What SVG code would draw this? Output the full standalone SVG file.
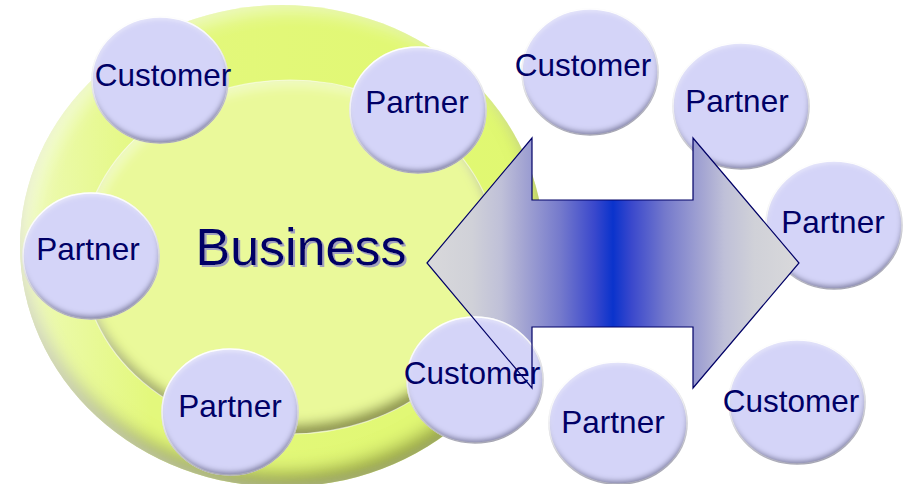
<svg xmlns="http://www.w3.org/2000/svg" width="905" height="484" viewBox="0 0 905 484">
  <defs>
    <style>
      .bub { fill: #D4D4F8; stroke: #FFFFFF; stroke-width: 1.5; filter: url(#bevelBlue); }
      .lbl { font-family: "Liberation Sans", Arial, sans-serif; font-size: 31.5px; fill: #000066; text-anchor: middle; }
      .big { font-family: "Liberation Sans", Arial, sans-serif; font-size: 52px; text-anchor: middle; fill: #000066; filter: url(#textShadow); }
    </style>
    <linearGradient id="ringGrad" x1="0" y1="0" x2="1" y2="0">
      <stop offset="0" stop-color="#EEFAB8"/>
      <stop offset="0.25" stop-color="#E3F87C"/>
      <stop offset="1" stop-color="#E0F870"/>
    </linearGradient>
    <linearGradient id="arrowGrad" gradientUnits="userSpaceOnUse" x1="427" y1="0" x2="799" y2="0">
      <stop offset="0" stop-color="#D9D9DB"/>
      <stop offset="0.12" stop-color="#D0D1D8"/>
      <stop offset="0.2" stop-color="#BFC0D8"/>
      <stop offset="0.25" stop-color="#A8A9D3"/>
      <stop offset="0.36" stop-color="#7479CC"/>
      <stop offset="0.45" stop-color="#3A48CC"/>
      <stop offset="0.5" stop-color="#0A33CC"/>
      <stop offset="0.55" stop-color="#3A48CC"/>
      <stop offset="0.64" stop-color="#7479CC"/>
      <stop offset="0.75" stop-color="#A8A9D3"/>
      <stop offset="0.8" stop-color="#BFC0D8"/>
      <stop offset="0.88" stop-color="#D0D1D8"/>
      <stop offset="1" stop-color="#D9D9DB"/>
    </linearGradient>
    <filter id="textShadow" x="-5%" y="-10%" width="110%" height="130%">
      <feOffset in="SourceAlpha" dx="2" dy="2" result="o"/>
      <feFlood flood-color="#A0A0C0"/>
      <feComposite in2="o" operator="in" result="sh"/>
      <feMerge>
        <feMergeNode in="sh"/>
        <feMergeNode in="SourceGraphic"/>
      </feMerge>
    </filter>
    <filter id="bevelBlue" x="-10%" y="-10%" width="120%" height="120%">
      <feGaussianBlur in="SourceAlpha" stdDeviation="2.5" result="b"/>
      <feOffset in="b" dx="-1" dy="-4" result="o"/>
      <feComposite in="SourceAlpha" in2="o" operator="out" result="rim"/>
      <feFlood flood-color="#50507A" flood-opacity="0.75"/>
      <feComposite in2="rim" operator="in" result="shadow"/>
      <feOffset in="b" dx="1" dy="3" result="o2"/>
      <feComposite in="SourceAlpha" in2="o2" operator="out" result="rim2"/>
      <feFlood flood-color="#FFFFFF" flood-opacity="0.45"/>
      <feComposite in2="rim2" operator="in" result="hl"/>
      <feMerge>
        <feMergeNode in="SourceGraphic"/>
        <feMergeNode in="shadow"/>
        <feMergeNode in="hl"/>
      </feMerge>
    </filter>
    <filter id="bevelRing" x="-5%" y="-5%" width="110%" height="110%">
      <feGaussianBlur in="SourceAlpha" stdDeviation="9" result="b"/>
      <feOffset in="b" dx="-3" dy="-14" result="o"/>
      <feComposite in="SourceAlpha" in2="o" operator="out" result="rim"/>
      <feFlood flood-color="#6E7428" flood-opacity="0.8"/>
      <feComposite in2="rim" operator="in" result="shadow"/>
      <feOffset in="b" dx="10" dy="4" result="o2"/>
      <feComposite in="SourceAlpha" in2="o2" operator="out" result="rim2"/>
      <feFlood flood-color="#FFFFFF" flood-opacity="0.45"/>
      <feComposite in2="rim2" operator="in" result="hl"/>
      <feMerge>
        <feMergeNode in="SourceGraphic"/>
        <feMergeNode in="shadow"/>
        <feMergeNode in="hl"/>
      </feMerge>
    </filter>
    <filter id="bevelDisk" x="-5%" y="-5%" width="110%" height="110%">
      <feGaussianBlur in="SourceAlpha" stdDeviation="6" result="b"/>
      <feOffset in="b" dx="-3" dy="-9" result="o"/>
      <feComposite in="SourceAlpha" in2="o" operator="out" result="rim"/>
      <feFlood flood-color="#70742A" flood-opacity="0.85"/>
      <feComposite in2="rim" operator="in" result="shadow"/>
      <feOffset in="b" dx="4" dy="6" result="o2"/>
      <feComposite in="SourceAlpha" in2="o2" operator="out" result="rim2"/>
      <feFlood flood-color="#FFFFFF" flood-opacity="0.35"/>
      <feComposite in2="rim2" operator="in" result="hl"/>
      <feMerge>
        <feMergeNode in="SourceGraphic"/>
        <feMergeNode in="shadow"/>
        <feMergeNode in="hl"/>
      </feMerge>
    </filter>
    <path id="arrowShape" d="M427,263 L532,138 L532,200 L693,200 L693,138 L799,263 L693,388 L693,327 L532,327 L532,388 Z"/>
  </defs>

  <rect width="905" height="484" fill="#FFFFFF"/>

  <g id="business">
    <ellipse cx="282" cy="246" rx="262" ry="241" fill="url(#ringGrad)" filter="url(#bevelRing)"/>
    <ellipse cx="290" cy="257" rx="208" ry="177" fill="#EAF99A" filter="url(#bevelDisk)"/>
    <ellipse cx="290" cy="257" rx="208" ry="177" fill="none" stroke="#FFFFFF" stroke-width="1.2" stroke-opacity="0.55"/>
    <text class="big" x="301" y="265">Business</text>
  </g>

  <g id="customer-1"><ellipse class="bub" cx="160" cy="80" rx="68" ry="63"/><text class="lbl" x="163" y="86">Customer</text></g>
  <g id="partner-2"><ellipse class="bub" cx="418" cy="110" rx="68" ry="63"/><text class="lbl" x="417" y="113">Partner</text></g>
  <g id="partner-3"><ellipse class="bub" cx="91" cy="256" rx="68" ry="63"/><text class="lbl" x="88" y="260">Partner</text></g>
  <g id="partner-4"><ellipse class="bub" cx="230" cy="412" rx="68" ry="63"/><text class="lbl" x="230" y="417">Partner</text></g>
  <g id="customer-6"><ellipse class="bub" cx="590" cy="72" rx="68" ry="63"/><text class="lbl" x="583" y="76">Customer</text></g>
  <g id="partner-7"><ellipse class="bub" cx="741" cy="106" rx="68" ry="63"/><text class="lbl" x="737" y="112">Partner</text></g>
  <g id="partner-8"><ellipse class="bub" cx="834" cy="225" rx="68" ry="64"/><text class="lbl" x="833" y="233">Partner</text></g>
  <g id="customer-9"><ellipse class="bub" cx="797" cy="402" rx="68" ry="62"/><text class="lbl" x="791" y="412">Customer</text></g>
  <g id="partner-10"><ellipse class="bub" cx="618" cy="423" rx="69" ry="61"/><text class="lbl" x="613" y="433">Partner</text></g>

  <g id="connectors">
    <use href="#arrowShape" fill="url(#arrowGrad)"/>
  </g>

  <g id="customer-5"><ellipse class="bub" cx="475" cy="380" rx="68" ry="63"/><text class="lbl" x="472" y="384">Customer</text></g>

  <g id="connectors-outline">
    <use href="#arrowShape" fill="none" stroke="#000066" stroke-width="1.2"/>
  </g>
</svg>
